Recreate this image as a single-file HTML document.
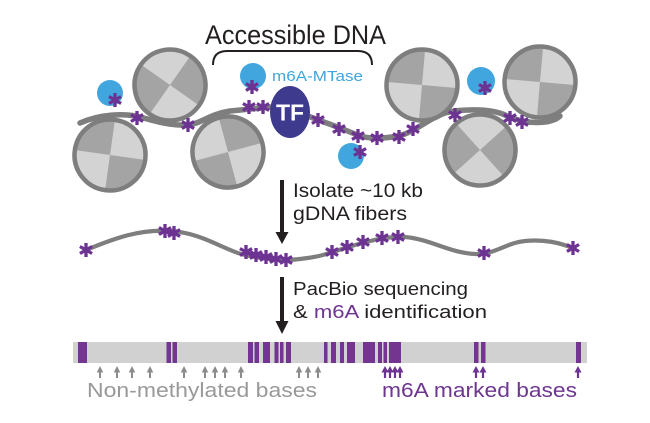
<!DOCTYPE html>
<html>
<head>
<meta charset="utf-8">
<style>
  html, body { margin: 0; padding: 0; background: #ffffff; }
  svg { display: block; }
  text { font-family: "Liberation Sans", "DejaVu Sans", sans-serif; }
</style>
</head>
<body>
<svg width="650" height="423" viewBox="0 0 650 423" xmlns="http://www.w3.org/2000/svg">
  <defs>
    <g id="ast">
      <line x1="0" y1="-7" x2="0" y2="7" stroke="#6c3393" stroke-width="3.3"/>
      <line x1="-6.06" y1="-3.5" x2="6.06" y2="3.5" stroke="#6c3393" stroke-width="3.3"/>
      <line x1="-6.06" y1="3.5" x2="6.06" y2="-3.5" stroke="#6c3393" stroke-width="3.3"/>
    </g>
    <g id="nuc">
      <circle cx="0" cy="0" r="35" fill="#d3d3d3"/>
      <path d="M0,0 L35,0 A35,35 0 0 1 0,35 Z" fill="#a4a4a4"/>
      <path d="M0,0 L-35,0 A35,35 0 0 1 0,-35 Z" fill="#a4a4a4"/>
      <circle cx="0" cy="0" r="35.5" fill="none" stroke="#7e7e7e" stroke-width="4.5"/>
    </g>
    <g id="garrow">
      <line x1="0" y1="370" x2="0" y2="378" stroke="#8c8c8c" stroke-width="2"/>
      <polygon points="-3.3,372.5 3.3,372.5 0,366" fill="#8c8c8c"/>
    </g>
    <g id="parrow">
      <line x1="0" y1="370" x2="0" y2="378" stroke="#6c3393" stroke-width="2.2"/>
      <polygon points="-3.5,372.5 3.5,372.5 0,366" fill="#6c3393"/>
    </g>
  </defs>

  <!-- Title + bracket -->
  <text x="205" y="44" font-size="27" fill="#231f20" textLength="181" lengthAdjust="spacingAndGlyphs">Accessible DNA</text>
  <path d="M213,65 Q213,51 227,51 L358,51 Q372,51 372,65" fill="none" stroke="#231f20" stroke-width="2"/>

  <!-- top DNA -->
  <path d="M80,123 C100,114 125,113 140,117 C155,121 170,126 188,125 C200,124 210,114 230,111 L272,107" fill="none" stroke="#7e7e7e" stroke-width="5.5" stroke-linecap="round"/>
  <path d="M305,115 L340,128 L360,136 C370,139 390,139 405,134 C420,128 430,118 445,113 C460,109 490,108 505,115 C515,120 530,124 545,122 C552,121 557,119 560,116" fill="none" stroke="#7e7e7e" stroke-width="5.5" stroke-linecap="round"/>

  <!-- nucleosomes -->
  <use href="#nuc" transform="translate(170,85) rotate(-55)"/>
  <use href="#nuc" transform="translate(110,155) rotate(8)"/>
  <use href="#nuc" transform="translate(228,152) rotate(75)"/>
  <use href="#nuc" transform="translate(422,85) rotate(5)"/>
  <use href="#nuc" transform="translate(480,150) rotate(-42)"/>
  <use href="#nuc" transform="translate(540,82) rotate(5)"/>

  <!-- MTase circles -->
  <circle cx="110" cy="93" r="13" fill="#41a6de"/>
  <circle cx="253" cy="76" r="13" fill="#41a6de"/>
  <circle cx="351" cy="156" r="13" fill="#41a6de"/>
  <circle cx="481" cy="81" r="14" fill="#41a6de"/>

  <text x="272" y="81" font-size="15" fill="#41a6de" textLength="91" lengthAdjust="spacingAndGlyphs">m6A-MTase</text>

  <!-- TF -->
  <ellipse cx="290" cy="112" rx="20" ry="26" fill="#3e3a8e"/>

  <!-- top asterisks -->
  <use href="#ast" x="115" y="100"/>
  <use href="#ast" x="137" y="118"/>
  <use href="#ast" x="188" y="125"/>
  <use href="#ast" x="252" y="87"/>
  <use href="#ast" x="249" y="107"/>
  <use href="#ast" x="263" y="107"/>
  <use href="#ast" x="318" y="120"/>
  <use href="#ast" x="339" y="129"/>
  <use href="#ast" x="358" y="136"/>
  <use href="#ast" x="360" y="152"/>
  <use href="#ast" x="377" y="138"/>
  <use href="#ast" x="399" y="137"/>
  <use href="#ast" x="413" y="129"/>
  <use href="#ast" x="455" y="115"/>
  <use href="#ast" x="485" y="88"/>
  <use href="#ast" x="510" y="118"/>
  <use href="#ast" x="522" y="122"/>

  <text x="290" y="120.5" font-size="23" font-weight="bold" fill="#ffffff" text-anchor="middle">TF</text>

  <!-- arrow 1 -->
  <line x1="282" y1="180" x2="282" y2="234" stroke="#231f20" stroke-width="4"/>
  <polygon points="275.5,232 288.5,232 282,244" fill="#231f20"/>
  <text x="293" y="197" font-size="19" fill="#231f20" textLength="130" lengthAdjust="spacingAndGlyphs">Isolate ~10 kb</text>
  <text x="293" y="220" font-size="19" fill="#231f20" textLength="114" lengthAdjust="spacingAndGlyphs">gDNA fibers</text>

  <!-- middle fiber -->
  <path d="M86,250 C115,238 140,229 170,231 C205,233 225,252 250,256 C270,260 285,261 300,259 C320,257 330,253 345,248 C365,242 385,236 405,237 C430,239 450,253 475,254 C495,255 505,243 525,241 C545,239 560,243 573,248" fill="none" stroke="#7e7e7e" stroke-width="4.2" stroke-linecap="round"/>
  <use href="#ast" x="86" y="250"/>
  <use href="#ast" x="165" y="231"/>
  <use href="#ast" x="174" y="233"/>
  <use href="#ast" x="246" y="252"/>
  <use href="#ast" x="256" y="255"/>
  <use href="#ast" x="266" y="257"/>
  <use href="#ast" x="276" y="259"/>
  <use href="#ast" x="286" y="260"/>
  <use href="#ast" x="332" y="252"/>
  <use href="#ast" x="347" y="247"/>
  <use href="#ast" x="363" y="242"/>
  <use href="#ast" x="382" y="238"/>
  <use href="#ast" x="398" y="237"/>
  <use href="#ast" x="484" y="253"/>
  <use href="#ast" x="573" y="248"/>

  <!-- arrow 2 -->
  <line x1="282" y1="277" x2="282" y2="323" stroke="#231f20" stroke-width="4"/>
  <polygon points="275.5,321 288.5,321 282,334" fill="#231f20"/>
  <text x="293" y="295" font-size="18" fill="#231f20" textLength="175" lengthAdjust="spacingAndGlyphs">PacBio sequencing</text>
  <text x="293" y="318" font-size="18" fill="#231f20" textLength="194" lengthAdjust="spacingAndGlyphs">&amp; <tspan fill="#6e3591">m6A</tspan> identification</text>

  <!-- sequence bar -->
  <rect x="73" y="342" width="514" height="21" fill="#d1d1d1"/>
  <g fill="#73358f">
    <rect x="78" y="342" width="9" height="21"/>
    <rect x="166.5" y="342" width="4.5" height="21"/>
    <rect x="172.5" y="342" width="4.5" height="21"/>
    <rect x="248" y="342" width="5" height="21"/>
    <rect x="254.5" y="342" width="4.5" height="21"/>
    <rect x="263" y="342" width="7" height="21"/>
    <rect x="274.5" y="342" width="4" height="21"/>
    <rect x="280" y="342" width="3.5" height="21"/>
    <rect x="286" y="342" width="5" height="21"/>
    <rect x="324" y="342" width="3.5" height="21"/>
    <rect x="331" y="342" width="5" height="21"/>
    <rect x="340" y="342" width="4" height="21"/>
    <rect x="347" y="342" width="8" height="21"/>
    <rect x="363" y="342" width="12" height="21"/>
    <rect x="378" y="342" width="4" height="21"/>
    <rect x="383.5" y="342" width="3.5" height="21"/>
    <rect x="389" y="342" width="12" height="21"/>
    <rect x="474" y="342" width="4.5" height="21"/>
    <rect x="481" y="342" width="4.5" height="21"/>
    <rect x="576" y="342" width="5" height="21"/>
  </g>

  <!-- arrows under bar -->
  <use href="#garrow" x="100"/>
  <use href="#garrow" x="117"/>
  <use href="#garrow" x="132"/>
  <use href="#garrow" x="150"/>
  <use href="#garrow" x="184"/>
  <use href="#garrow" x="205"/>
  <use href="#garrow" x="215"/>
  <use href="#garrow" x="225"/>
  <use href="#garrow" x="241"/>
  <use href="#garrow" x="299"/>
  <use href="#garrow" x="308"/>
  <use href="#garrow" x="318"/>
  <use href="#parrow" x="385"/>
  <use href="#parrow" x="390"/>
  <use href="#parrow" x="395"/>
  <use href="#parrow" x="400"/>
  <use href="#parrow" x="476"/>
  <use href="#parrow" x="483"/>
  <use href="#parrow" x="578"/>

  <text x="87" y="397" font-size="20" fill="#999999" textLength="230" lengthAdjust="spacingAndGlyphs">Non-methylated bases</text>
  <text x="382" y="397" font-size="20" fill="#6e3591" textLength="195" lengthAdjust="spacingAndGlyphs">m6A marked bases</text>
</svg>
</body>
</html>
